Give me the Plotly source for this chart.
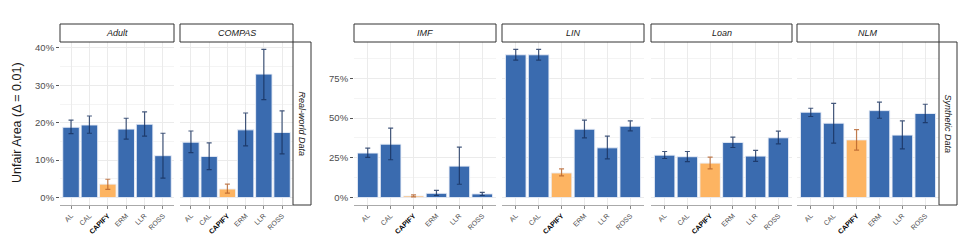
import plotly.graph_objects as go

# ---------------- data (percent) ----------------
methods = ["AL", "CAL", "CAPIFY", "ERM", "LLR", "ROSS"]
datasets = ["Adult", "COMPAS", "IMF", "LIN", "Loan", "NLM"]
group_labels = ["Real-world Data", "Synthetic Data"]

adult_mean = [18.8, 19.4, 3.6, 18.3, 19.6, 11.2]
adult_lo = [17.1, 17.2, 2.2, 15.6, 16.4, 5.2]
adult_hi = [20.7, 21.8, 4.9, 21.2, 22.9, 17.2]

compas_mean = [14.8, 11.0, 2.3, 18.1, 33.0, 17.4]
compas_lo = [12.0, 7.5, 1.2, 13.8, 26.2, 11.7]
compas_hi = [17.8, 14.6, 3.6, 22.6, 39.6, 23.2]

imf_mean = [28.0, 33.6, 1.0, 2.7, 19.8, 2.3]
imf_lo = [25.3, 23.8, 0.4, 1.3, 8.4, 1.3]
imf_hi = [31.1, 43.7, 1.7, 4.6, 31.8, 3.3]

lin_mean = [89.8, 89.8, 15.5, 43.0, 31.3, 44.9]
lin_lo = [86.5, 86.5, 13.6, 37.6, 24.4, 42.0]
lin_hi = [93.2, 93.2, 18.0, 48.7, 38.6, 48.3]

loan_mean = [26.7, 25.7, 21.7, 34.7, 26.1, 37.6]
loan_lo = [24.6, 22.6, 18.0, 31.5, 22.8, 33.8]
loan_hi = [29.0, 29.0, 25.5, 38.0, 29.7, 41.8]

nlm_mean = [53.7, 46.8, 36.3, 54.7, 39.3, 52.9]
nlm_lo = [51.0, 34.3, 29.9, 49.9, 30.7, 47.2]
nlm_hi = [56.2, 59.3, 42.8, 60.0, 48.3, 58.7]

left_ticks = [0, 10, 20, 30, 40]
right_ticks = [0, 25, 50, 75]

# ---------------- layout geometry ----------------
W, H = 969, 242
BLUE = "#3A6BAF"
ORANGE = "#FDB462"
ERR_BLUE = "rgba(22,48,92,0.8)"
ERR_ORANGE = "rgba(180,95,40,0.8)"
FONT = "Liberation Sans, Arial, sans-serif"

def fx(px):
    return px / W

def fy(py):
    return 1 - py / H

PT, PB = 42, 205
panels_px = [(60, 174), (180, 293), (354, 496), (502, 644), (651, 792), (797, 939)]
means = [adult_mean, compas_mean, imf_mean, lin_mean, loan_mean, nlm_mean]
los = [adult_lo, compas_lo, imf_lo, lin_lo, loan_lo, nlm_lo]
his = [adult_hi, compas_hi, imf_hi, lin_hi, loan_hi, nlm_hi]

xs = list(range(1, len(methods) + 1))
cap_idx = methods.index("CAPIFY")

fig = go.Figure()
layout = dict(
    width=W, height=H, margin=dict(l=0, r=0, t=0, b=0, autoexpand=False),
    paper_bgcolor="white", plot_bgcolor="white",
    showlegend=False, barmode="overlay",
    font=dict(family=FONT, color="#4D4D4D"),
)

ticktext = [("<b><span style='color:black'>%s</span></b>" % m) if m == "CAPIFY" else m for m in methods]

def rng(all_hi):
    mx = max(max(h) for h in all_hi)
    e = 0.05 * mx
    return [-e, mx + e]

left_range = rng(his[:2])
right_range = rng(his[2:])

for i in range(6):
    n = "" if i == 0 else str(i + 1)
    xa, ya = "x" + n, "y" + n
    m, lo, hi = means[i], los[i], his[i]
    for is_cap in (False, True):
        idx = [k for k in range(len(methods)) if (k == cap_idx) == is_cap]
        fig.add_trace(go.Bar(
            x=[xs[k] for k in idx], y=[m[k] for k in idx], width=0.9,
            marker=dict(color=ORANGE if is_cap else BLUE,
                        line=dict(color="rgba(235,240,248,0.9)", width=1)),
            error_y=dict(type="data", symmetric=False,
                         array=[hi[k] - m[k] for k in idx],
                         arrayminus=[m[k] - lo[k] for k in idx],
                         color=ERR_ORANGE if is_cap else ERR_BLUE,
                         thickness=1.2, width=2.5),
            xaxis=xa, yaxis=ya, hoverinfo="skip",
        ))
    x0, x1 = panels_px[i]
    left = i < 2
    first = i in (0, 2)
    layout["xaxis" + n] = dict(
        domain=[fx(x0), fx(x1)], anchor=ya, range=[0.4, 6.6], automargin=False,
        tickmode="array", tickvals=xs, ticktext=ticktext, tickangle=-45,
        tickfont=dict(size=7, color="#4D4D4D", family=FONT),
        ticks="outside", ticklen=3, tickcolor="#888888", tickwidth=0.8,
        showline=True, linecolor="#AAAAAA", linewidth=1,
        showgrid=True, gridcolor="#EBEBEB", gridwidth=1, zeroline=False,
        fixedrange=True,
    )
    yt = left_ticks if left else right_ticks
    ydict = dict(
        domain=[fy(PB), fy(PT)], anchor=xa, automargin=False,
        range=left_range if left else right_range,
        tickmode="array", tickvals=yt, ticktext=["%g%%" % v for v in yt],
        tickfont=dict(size=9.5, color="#4D4D4D", family=FONT),
        showgrid=True, gridcolor="#EBEBEB", gridwidth=1, zeroline=False,
        showline=False, fixedrange=True,
        minor=dict(dtick=5 if left else 12.5, tick0=0, showgrid=True,
                   gridcolor="#F4F4F4", gridwidth=1),
    )
    if first:
        ydict.update(ticks="outside", ticklen=3, tickcolor="#555555", tickwidth=0.8,
                     showticklabels=True)
    else:
        ydict.update(ticks="", showticklabels=False)
    layout["yaxis" + n] = ydict

fig.update_layout(**layout)

shapes = []
annotations = []
# top strips
for i, name in enumerate(datasets):
    x0, x1 = panels_px[i]
    shapes.append(dict(type="rect", xref="paper", yref="paper",
                       x0=fx(x0), x1=fx(x1), y0=fy(42), y1=fy(24),
                       line=dict(color="#333333", width=1), fillcolor="white", layer="above"))
    annotations.append(dict(text="<i>%s</i>" % name, xref="paper", yref="paper",
                            x=fx((x0 + x1) / 2), y=fy(33), showarrow=False,
                            font=dict(size=9, color="#1A1A1A", family=FONT),
                            xanchor="center", yanchor="middle"))
# right strips
for (sx0, sx1), lab in zip([(293, 311), (939, 957)], group_labels):
    shapes.append(dict(type="rect", xref="paper", yref="paper",
                       x0=fx(sx0), x1=fx(sx1), y0=fy(PB), y1=fy(PT),
                       line=dict(color="#333333", width=1), fillcolor="white", layer="above"))
    annotations.append(dict(text="<i>%s</i>" % lab, xref="paper", yref="paper",
                            x=fx((sx0 + sx1) / 2), y=fy((PT + PB) / 2), showarrow=False,
                            textangle=90, font=dict(size=9, color="#1A1A1A", family=FONT),
                            xanchor="center", yanchor="middle"))
# y title
annotations.append(dict(text="Unfair Area (Δ = 0.01)", xref="paper", yref="paper",
                        x=fx(17), y=fy(123), showarrow=False, textangle=-90,
                        font=dict(size=12.5, color="#1A1A1A", family=FONT),
                        xanchor="center", yanchor="middle"))

fig.update_layout(shapes=shapes, annotations=annotations)
fig.write_html("out.html", config={"displayModeBar": False},
               post_script="document.body.style.margin='0px';")
